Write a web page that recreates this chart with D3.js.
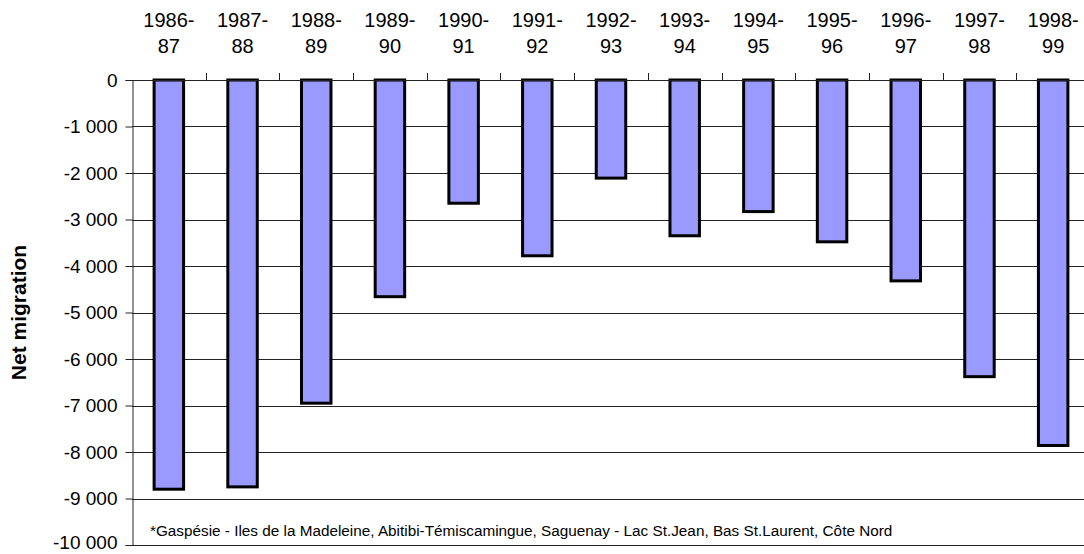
<!DOCTYPE html>
<html>
<head>
<meta charset="utf-8">
<script src="https://cdn.jsdelivr.net/npm/d3@7"></script>
<style>
  html, body { margin: 0; padding: 0; background: #fff; }
  svg { display: block; font-family: "Liberation Sans", Arial, sans-serif; }
</style>
</head>
<body>
<svg id="chart" width="1084" height="554"></svg>
<script>
// Net migration by year for the outlying regions
const periods = ["1986-87", "1987-88", "1988-89", "1989-90", "1990-91", "1991-92", "1992-93",
                 "1993-94", "1994-95", "1995-96", "1996-97", "1997-98", "1998-99"];
const netMigration = [-8800, -8750, -6950, -4660, -2650, -3780, -2110,
                      -3350, -2830, -3480, -4320, -6380, -7860];
const yTicks = [0, -1000, -2000, -3000, -4000, -5000, -6000, -7000, -8000, -9000, -10000];
const footnote = "*Gaspésie - Iles de la Madeleine, Abitibi-Témiscamingue, Saguenay - Lac St.Jean, Bas St.Laurent, Côte Nord";
const yTitle = "Net migration";

const svg = d3.select("#chart");
const plotLeft = 132, plotRight = 1090, plotTop = 80, plotBottom = 545;

const x = d3.scaleBand().domain(periods).range([plotLeft, plotRight]).paddingInner(0.6).paddingOuter(0.3);
const y = d3.scaleLinear().domain([0, -10000]).range([plotTop, plotBottom]);

// thousands separated by a space, plain hyphen for negatives
const fmt = v => (v < 0 ? "-" : "") + d3.format(",")(Math.abs(v)).replace(/,/g, " ");

// horizontal gridlines
svg.append("g").selectAll("line").data(yTicks.slice(1)).join("line")
  .attr("x1", plotLeft).attr("x2", plotRight)
  .attr("y1", d => Math.round(y(d)) + 0.5).attr("y2", d => Math.round(y(d)) + 0.5)
  .attr("stroke", "#222").attr("stroke-width", 1);

// y axis on the left
const yAxis = svg.append("g").attr("transform", `translate(${plotLeft + 0.5},0)`)
  .call(d3.axisLeft(y).tickValues(yTicks).tickFormat(fmt).tickSize(7).tickPadding(8));
yAxis.select(".domain").attr("stroke", "#222");
yAxis.selectAll(".tick line").attr("stroke", "#222");
yAxis.selectAll(".tick text").attr("font-size", 19).attr("fill", "#000")
  .attr("font-family", "Liberation Sans, Arial, sans-serif")
  .attr("dy", d => d === -10000 ? "0.18em" : "0.34em");

// bars hanging from zero
svg.append("g").selectAll("rect").data(periods).join("rect")
  .attr("x", d => x(d))
  .attr("y", y(0))
  .attr("width", x.bandwidth())
  .attr("height", (d, i) => y(netMigration[i]) - y(0))
  .attr("fill", "#9999ff")
  .attr("stroke", "#000")
  .attr("stroke-width", 3);

// zero line with category separators pointing up
svg.append("line").attr("x1", plotLeft).attr("x2", plotRight)
  .attr("y1", plotTop + 0.5).attr("y2", plotTop + 0.5).attr("stroke", "#222");
const step = x.step();
const bounds = d3.range(1, periods.length).map(k => plotLeft + k * step);
svg.append("g").selectAll("line").data(bounds).join("line")
  .attr("x1", d => Math.round(d) + 0.5).attr("x2", d => Math.round(d) + 0.5)
  .attr("y1", plotTop - 7).attr("y2", plotTop)
  .attr("stroke", "#222");

// category labels on two lines above the chart
const lab = svg.append("g").selectAll("text").data(periods).join("text")
  .attr("text-anchor", "middle")
  .attr("font-size", 20)
  .attr("fill", "#000");
lab.append("tspan")
  .attr("x", d => x(d) + x.bandwidth() / 2).attr("y", 27)
  .text(d => d.split("-")[0] + "-");
lab.append("tspan")
  .attr("x", d => x(d) + x.bandwidth() / 2).attr("y", 53)
  .text(d => d.split("-")[1]);

// footnote inside the plot area
svg.append("text").attr("x", 150).attr("y", 536)
  .attr("font-size", 15.3).attr("fill", "#000")
  .text(footnote);

// axis title
svg.append("text")
  .attr("transform", `translate(26,${(plotTop + plotBottom) / 2}) rotate(-90)`)
  .attr("text-anchor", "middle")
  .attr("font-size", 21).attr("font-weight", "bold")
  .text(yTitle);
</script>
</body>
</html>
